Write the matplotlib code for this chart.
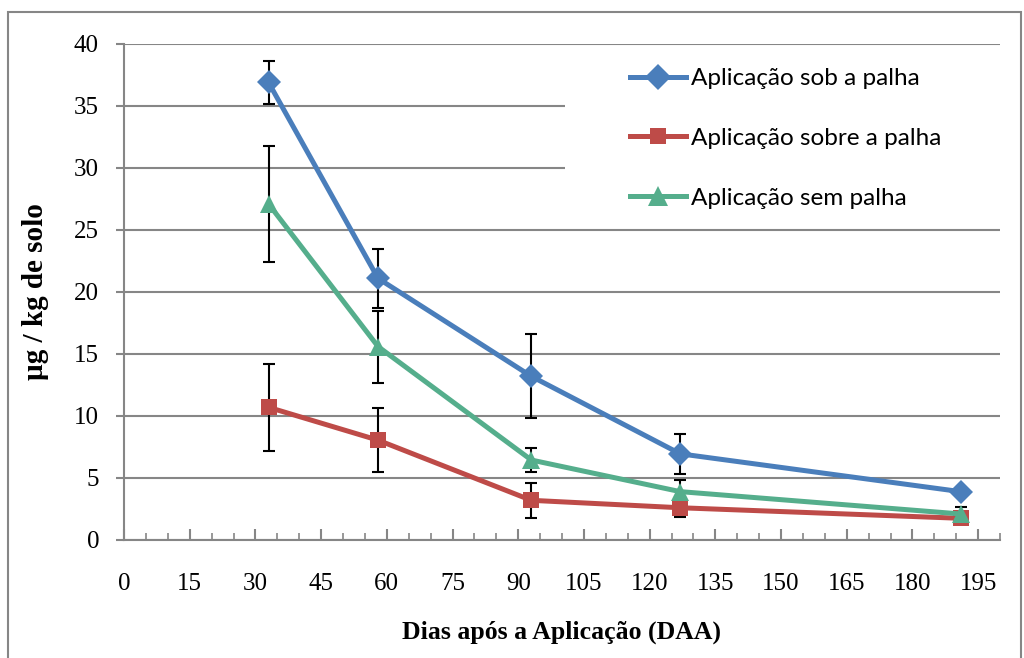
import matplotlib
matplotlib.use("Agg")
import matplotlib.pyplot as plt
from matplotlib.patches import Rectangle
from matplotlib.ticker import MultipleLocator

days = [33, 58, 93, 127, 191]
sob = [36.9, 21.1, 13.2, 6.95, 3.9]
sob_err = [1.7, 2.4, 3.4, 1.6, 0.2]
sobre = [10.7, 8.05, 3.2, 2.6, 1.75]
sobre_err = [3.5, 2.6, 1.4, 0.75, 0.3]
sem = [27.1, 15.6, 6.45, 3.9, 2.1]
sem_err = [4.7, 2.9, 1.0, 0.9, 0.6]

labels = ["Aplicação sob a palha", "Aplicação sobre a palha", "Aplicação sem palha"]
colors = ["#4A7EBB", "#BE4B48", "#55AE8C"]
markers = ["D", "s", "^"]
msizes = [12, 11, 13]
xticks = list(range(0, 196, 15))
yticks = list(range(0, 41, 5))

fig = plt.figure(figsize=(10.24, 6.58), dpi=100)
ax = fig.add_axes([124/1024, 1-540/658, 876/1024, 496/658])

series = [(sob, sob_err), (sobre, sobre_err), (sem, sem_err)]
handles = []
for (vals, err), c, m, ms, lab in zip(series, colors, markers, msizes, labels):
    ax.errorbar(days, vals, yerr=err, fmt="none", ecolor="black", elinewidth=1.5,
                capsize=4.5, capthick=1.5, zorder=2)
    h, = ax.plot(days, vals, color=c, lw=3.6, marker=m, markersize=ms,
                 markeredgewidth=0, label=lab, zorder=3)
    handles.append(h)

ax.set_xlim(0, 200)
ax.set_ylim(0, 40)
ax.set_xticks(xticks)
ax.xaxis.set_minor_locator(MultipleLocator(5))
ax.set_yticks(yticks)
ax.yaxis.grid(True, color="#868686", lw=1.5, zorder=0)
ax.set_axisbelow(True)
for s in ["top", "right"]:
    ax.spines[s].set_visible(False)
for s in ["left", "bottom"]:
    ax.spines[s].set_color("#868686")
    ax.spines[s].set_linewidth(1.5)

serif = "Liberation Serif"
ax.tick_params(axis="x", which="major", direction="in", length=8, width=1.5,
               color="#868686", pad=24, labelsize=18)
ax.tick_params(axis="x", which="minor", direction="in", length=5, width=1.2,
               color="#868686")
ax.tick_params(axis="y", which="major", direction="out", length=6, width=1.5,
               color="#868686", pad=12, labelsize=18)
for lab in ax.get_xticklabels() + ax.get_yticklabels():
    lab.set_fontfamily(serif)

ax.set_xlabel("Dias após a Aplicação (DAA)", fontfamily=serif, fontweight="bold",
              fontsize=18.5, labelpad=18)
ax.set_ylabel("µg / kg de solo", fontfamily=serif, fontweight="bold",
              fontsize=21, labelpad=18)

# white legend area covering the gridlines
ax.add_patch(Rectangle(((565-124)/876, (540-225)/496), (1000-565)/876, 175/496,
                       transform=ax.transAxes, facecolor="white", edgecolor="none",
                       zorder=4))

leg = ax.legend(handles=handles, loc="upper left",
                bbox_to_anchor=((630-124)/876, (540-68)/496),
                frameon=False, prop={"family": "Lato", "size": 17.5},
                handlelength=2.3, handletextpad=0.2, labelspacing=1.6,
                borderpad=0.0, borderaxespad=0.0, markerscale=1.1)
leg.set_zorder(5)
for lh in leg.get_lines():
    lh.set_linewidth(3.6)

fig.patches.append(Rectangle((8/1024, -0.05), 1013/1024, 1.05 - 12/658,
                             transform=fig.transFigure, fill=False,
                             edgecolor="#868686", lw=1.5))

fig.savefig("out.png", dpi=100)
